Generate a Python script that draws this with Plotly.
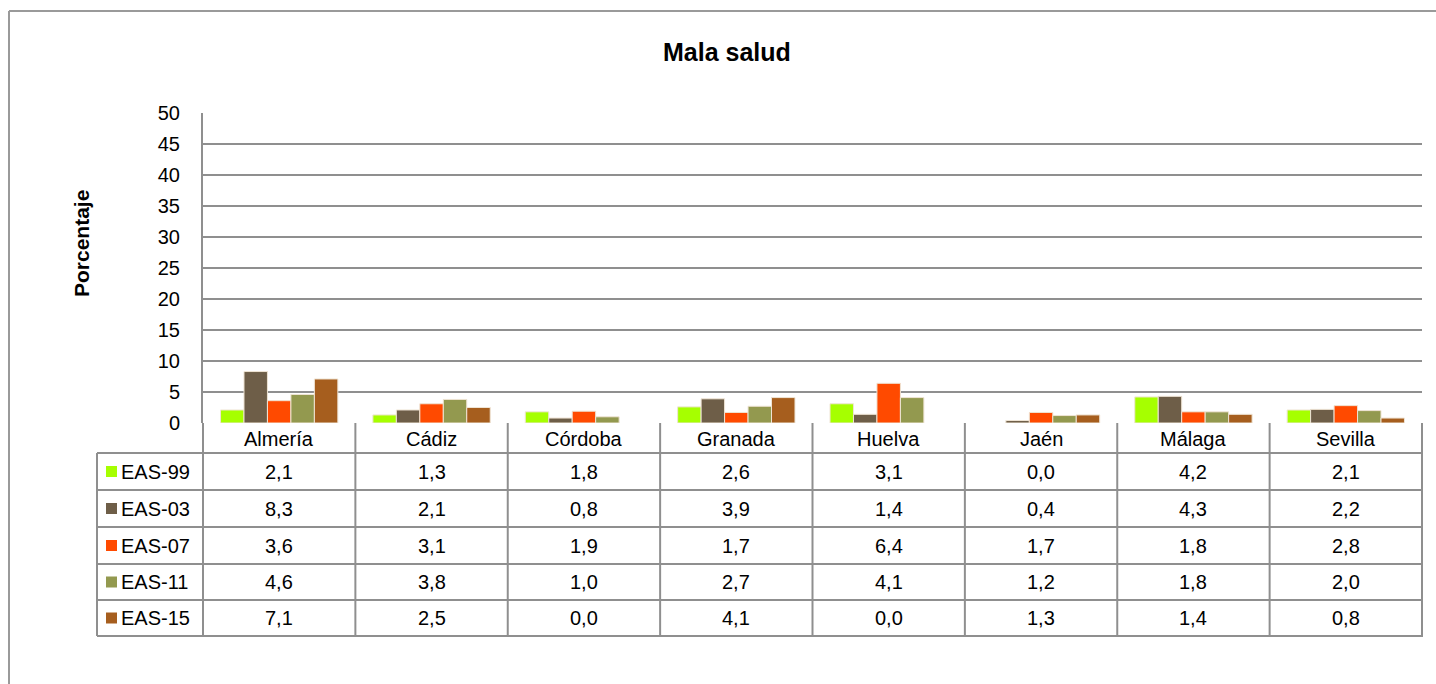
import plotly.graph_objects as go

categories = ["Almería", "Cádiz", "Córdoba", "Granada", "Huelva", "Jaén", "Málaga", "Sevilla"]
series_names = ["EAS-99", "EAS-03", "EAS-07", "EAS-11", "EAS-15"]
eas99 = [2.1, 1.3, 1.8, 2.6, 3.1, 0.0, 4.2, 2.1]
eas03 = [8.3, 2.1, 0.8, 3.9, 1.4, 0.4, 4.3, 2.2]
eas07 = [3.6, 3.1, 1.9, 1.7, 6.4, 1.7, 1.8, 2.8]
eas11 = [4.6, 3.8, 1.0, 2.7, 4.1, 1.2, 1.8, 2.0]
eas15 = [7.1, 2.5, 0.0, 4.1, 0.0, 1.3, 1.4, 0.8]
series_values = [eas99, eas03, eas07, eas11, eas15]
colors = ["#A6FF00", "#6E5E48", "#FF4A00", "#93994F", "#A65E1E"]
y_ticks = list(range(0, 55, 5))

OFF = 0  # body margin removed via post_script
W, H = 1436, 684
Ls, Rs, Ts, Bs = 203, 1422, 113, 423  # plot area in screen pixels
pw, ph = Rs - Ls, Bs - Ts

def px(x):
    return (x - Ls) / pw

def py(y):
    return (Bs - y) / ph

FONT = "Liberation Sans, Arial, sans-serif"
LINE = "#8f8f8f"
FS = 20

fig = go.Figure()
for name, vals, col in zip(series_names, series_values, colors):
    fig.add_trace(go.Bar(
        x=categories, y=vals, name=name,
        marker=dict(color=col, line=dict(color="#efe4d4", width=[0 if v == 0 else 1 for v in vals])),
        showlegend=False,
    ))

shapes = []
shapes.append(dict(type="line", xref="paper", yref="paper", x0=px(9), x1=px(1450), y0=py(11), y1=py(11),
                   line=dict(color="#9a9a9a", width=2)))
shapes.append(dict(type="line", xref="paper", yref="paper", x0=px(9), x1=px(9), y0=py(11), y1=py(700),
                   line=dict(color="#9a9a9a", width=2)))

row_edges = [453, 490, 527, 564, 600, 636]
n = len(categories)
cw = pw / n
for yy in row_edges:
    shapes.append(dict(type="line", xref="paper", yref="paper", x0=px(97), x1=px(Rs + 1), y0=py(yy), y1=py(yy),
                       line=dict(color=LINE, width=2)))
for k in range(n + 1):
    xx = Ls + k * cw
    shapes.append(dict(type="line", xref="paper", yref="paper", x0=px(xx), x1=px(xx), y0=py(Bs), y1=py(636),
                       line=dict(color=LINE, width=2)))
shapes.append(dict(type="line", xref="paper", yref="paper", x0=px(97), x1=px(97), y0=py(453), y1=py(636),
                   line=dict(color=LINE, width=2)))

annotations = []
for i, (name, col) in enumerate(zip(series_names, colors)):
    yc = (row_edges[i] + row_edges[i + 1]) / 2
    shapes.append(dict(type="rect", xref="paper", yref="paper", x0=px(106), x1=px(117),
                       y0=py(yc + 5.5), y1=py(yc - 5.5), fillcolor=col, line=dict(width=0)))
    annotations.append(dict(x=px(119), y=py(yc), xref="paper", yref="paper", text=name, showarrow=False,
                            xanchor="left", yanchor="middle", font=dict(family=FONT, size=FS, color="#000")))
    for c, v in zip(categories, series_values[i]):
        annotations.append(dict(x=c, y=py(yc), xref="x", yref="paper", text=f"{v:.1f}".replace(".", ","),
                                showarrow=False, xanchor="center", yanchor="middle",
                                font=dict(family=FONT, size=FS, color="#000")))
for c in categories:
    annotations.append(dict(x=c, y=py(439), xref="x", yref="paper", text=c, showarrow=False,
                            xanchor="center", yanchor="middle", font=dict(family=FONT, size=FS, color="#000")))
annotations.append(dict(x=px(727), y=py(52), xref="paper", yref="paper", text="<b>Mala salud</b>",
                        showarrow=False, xanchor="center", yanchor="middle",
                        font=dict(family=FONT, size=25, color="#000")))
annotations.append(dict(x=px(81), y=py(244), xref="paper", yref="paper", text="<b>Porcentaje</b>",
                        showarrow=False, textangle=-90, xanchor="center", yanchor="middle",
                        font=dict(family=FONT, size=21, color="#000")))

fig.update_layout(
    width=W, height=H,
    margin=dict(l=Ls - OFF, r=W - (Rs - OFF), t=Ts - OFF, b=H - (Bs - OFF), pad=0),
    paper_bgcolor="white", plot_bgcolor="white",
    barmode="group", bargap=0.23, bargroupgap=0,
    xaxis=dict(showticklabels=False, showgrid=False, zeroline=False, showline=False, ticks=""),
    yaxis=dict(range=[0, 50], tickvals=y_ticks, ticktext=[str(t) for t in y_ticks],
               showgrid=True, gridcolor=LINE, gridwidth=2, zeroline=False,
               showline=True, linecolor=LINE, linewidth=2, ticks="", ticklen=0,
               ticklabelstandoff=17,
               tickfont=dict(family=FONT, size=FS, color="#000")),
    shapes=shapes, annotations=annotations,
    showlegend=False,
)

fig.write_html("out.html", config={"displayModeBar": False},
               post_script="document.body.style.margin='0';document.body.style.overflow='hidden';")
